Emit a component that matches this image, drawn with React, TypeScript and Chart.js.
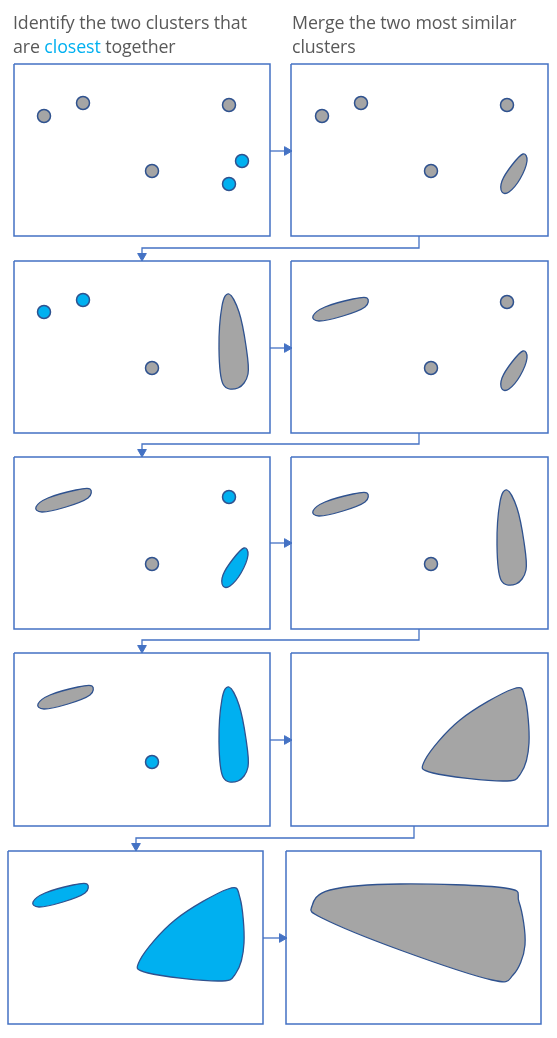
import React, { useEffect, useRef } from 'react';
import Chart from 'chart.js/auto';

const GRAY = '#a5a5a5';
const BLUE = '#00b0f0';
const EDGE = '#2f528f';
const FRAME = '#4472c4';

type P = { x: number; y: number };

// panel frames [left, top, right, bottom]
const frames: number[][] = [
  [14, 64, 270, 236], [291, 64, 548, 236],
  [14, 261, 270, 433], [291, 261, 548, 433],
  [14, 457, 270, 629], [291, 457, 548, 629],
  [14, 653, 270, 826], [291, 653, 548, 826],
  [8, 851, 263, 1024], [286, 851, 541, 1024],
];

const grayDots: P[] = [
  { x: 44, y: 116 }, { x: 83, y: 103 }, { x: 229, y: 105 }, { x: 152, y: 171 },
  { x: 322, y: 116 }, { x: 361, y: 103 }, { x: 507, y: 105 }, { x: 431, y: 171 },
  { x: 152, y: 368 }, { x: 507, y: 302 }, { x: 431, y: 368 },
  { x: 152, y: 564 }, { x: 431, y: 564 },
];
const blueDots: P[] = [
  { x: 242, y: 161 }, { x: 229, y: 184 },
  { x: 44, y: 312 }, { x: 83, y: 300 },
  { x: 229, y: 497 }, { x: 152, y: 762 },
];

// closed cluster outlines (smoothed)
const smallEllipse = (cx: number, cy: number): number[][] => [
  [cx - 12, cy + 19], [cx - 12, cy + 8], [cx - 2, cy - 8], [cx + 9, cy - 19], [cx + 13, cy - 12], [cx + 6, cy + 6], [cx - 5, cy + 19],
];
const flatEllipse = (x0: number, y0: number): number[][] => [
  [x0, y0 + 10], [x0 + 12, y0 + 1], [x0 + 40, y0 - 7], [x0 + 54, y0 - 8], [x0 + 52, y0 + 1], [x0 + 30, y0 + 10], [x0 + 6, y0 + 15],
];
const tallBlob = (x0: number, y0: number): number[][] => [
  [x0 + 10, y0], [x0 + 20, y0 + 18], [x0 + 27, y0 + 52], [x0 + 29, y0 + 80], [x0 + 19, y0 + 94], [x0 + 4, y0 + 90], [x0, y0 + 55], [x0 + 3, y0 + 12],
];
const bigBlob = (x0: number, y0: number): number[][] => [
  [x0, y0 + 72], [x0 + 35, y0 + 32], [x0 + 88, y0 + 1], [x0 + 100, y0 + 10], [x0 + 104, y0 + 55], [x0 + 96, y0 + 85], [x0 + 78, y0 + 93], [x0 + 8, y0 + 85],
];
const hugeBlob: number[][] = [
  [312, 906], [330, 890], [400, 884], [505, 888], [519, 902], [525, 945], [513, 975], [492, 980], [400, 950], [322, 918],
];

const grayShapes: number[][][] = [
  smallEllipse(514, 173), tallBlob(219, 294), flatEllipse(313, 306), smallEllipse(514, 370),
  flatEllipse(36, 497), flatEllipse(313, 501), tallBlob(497, 490),
  flatEllipse(38, 694), bigBlob(425, 688), hugeBlob,
];
const blueShapes: number[][][] = [
  smallEllipse(235, 567), tallBlob(219, 687), flatEllipse(33, 892), bigBlob(140, 888),
];

const connectors: P[][] = [
  [{ x: 270, y: 151 }, { x: 287, y: 151 }],
  [{ x: 270, y: 348 }, { x: 287, y: 348 }],
  [{ x: 270, y: 543 }, { x: 287, y: 543 }],
  [{ x: 270, y: 740 }, { x: 287, y: 740 }],
  [{ x: 263, y: 938 }, { x: 282, y: 938 }],
  [{ x: 419, y: 236 }, { x: 419, y: 248 }, { x: 142, y: 248 }, { x: 142, y: 256 }],
  [{ x: 419, y: 433 }, { x: 419, y: 444 }, { x: 142, y: 444 }, { x: 142, y: 452 }],
  [{ x: 419, y: 629 }, { x: 419, y: 640 }, { x: 142, y: 640 }, { x: 142, y: 648 }],
  [{ x: 414, y: 826 }, { x: 414, y: 838 }, { x: 136, y: 838 }, { x: 136, y: 846 }],
];
const rightHeads: P[] = [
  { x: 287, y: 151 }, { x: 287, y: 348 }, { x: 287, y: 543 }, { x: 287, y: 740 }, { x: 282, y: 938 },
];
const downHeads: P[] = [
  { x: 142, y: 256 }, { x: 142, y: 452 }, { x: 142, y: 648 }, { x: 136, y: 846 },
];

// draws closed smooth outlines via the chart scales
const blobPlugin = {
  id: 'blobs',
  afterDatasetsDraw(chart: any) {
    const ctx = chart.ctx;
    const xs = chart.scales.x;
    const ys = chart.scales.y;
    const draw = (pts: number[][], fill: string) => {
      const p = pts.map(([x, y]) => [xs.getPixelForValue(x), ys.getPixelForValue(y)]);
      const n = p.length;
      ctx.beginPath();
      ctx.moveTo(p[0][0], p[0][1]);
      for (let i = 0; i < n; i++) {
        const p0 = p[(i - 1 + n) % n], p1 = p[i], p2 = p[(i + 1) % n], p3 = p[(i + 2) % n];
        ctx.bezierCurveTo(
          p1[0] + (p2[0] - p0[0]) / 6, p1[1] + (p2[1] - p0[1]) / 6,
          p2[0] - (p3[0] - p1[0]) / 6, p2[1] - (p3[1] - p1[1]) / 6,
          p2[0], p2[1]
        );
      }
      ctx.closePath();
      ctx.fillStyle = fill;
      ctx.fill();
      ctx.lineWidth = 1.3;
      ctx.strokeStyle = EDGE;
      ctx.stroke();
    };
    ctx.save();
    grayShapes.forEach((s) => draw(s, GRAY));
    blueShapes.forEach((s) => draw(s, BLUE));
    ctx.restore();
  },
};

const App: React.FC = () => {
  const chartRef = useRef<HTMLCanvasElement>(null);

  useEffect(() => {
    if (!chartRef.current) return;
    const line = (pts: P[], color: string, width: number) => ({
      type: 'line' as const,
      data: pts,
      borderColor: color,
      borderWidth: width,
      pointRadius: 0,
      tension: 0,
      fill: false,
    });
    const datasets: any[] = [
      ...frames.map(([l, t, r, b]) =>
        line([{ x: l, y: t }, { x: r, y: t }, { x: r, y: b }, { x: l, y: b }, { x: l, y: t }], FRAME, 1.5)),
      ...connectors.map((c) => line(c, FRAME, 1.3)),
      { type: 'scatter', data: rightHeads, pointStyle: 'triangle', rotation: 90, pointRadius: 5, backgroundColor: FRAME, borderColor: FRAME },
      { type: 'scatter', data: downHeads, pointStyle: 'triangle', rotation: 180, pointRadius: 5, backgroundColor: FRAME, borderColor: FRAME },
      { type: 'scatter', data: grayDots, pointRadius: 6.5, backgroundColor: GRAY, borderColor: EDGE, borderWidth: 1.5 },
      { type: 'scatter', data: blueDots, pointRadius: 6.5, backgroundColor: BLUE, borderColor: EDGE, borderWidth: 1.5 },
    ];
    const chart = new Chart(chartRef.current, {
      type: 'scatter',
      data: { datasets },
      options: {
        animation: false,
        responsive: true,
        maintainAspectRatio: false,
        layout: { padding: 0, autoPadding: false },
        events: [],
        scales: {
          x: { type: 'linear', min: 0, max: 557, display: false },
          y: { type: 'linear', min: 0, max: 1038, reverse: true, display: false },
        },
        plugins: { legend: { display: false }, tooltip: { enabled: false } },
      },
      plugins: [blobPlugin],
    });
    return () => chart.destroy();
  }, []);

  const text: React.CSSProperties = {
    position: 'absolute', top: 10, fontFamily: '"Open Sans", sans-serif', fontSize: 17.8,
    lineHeight: '24px', color: '#595959', whiteSpace: 'nowrap', letterSpacing: -0.1,
  };

  return (
    <div style={{ position: 'fixed', left: 0, top: 0, width: 557, height: 1038, background: '#fff' }}>
      <canvas ref={chartRef}></canvas>
      <div style={{ ...text, left: 13 }}>
        Identify the two clusters that<br />are <span style={{ color: BLUE }}>closest</span> together
      </div>
      <div style={{ ...text, left: 292 }}>
        Merge the two most similar<br />clusters
      </div>
    </div>
  );
};

export default App;
